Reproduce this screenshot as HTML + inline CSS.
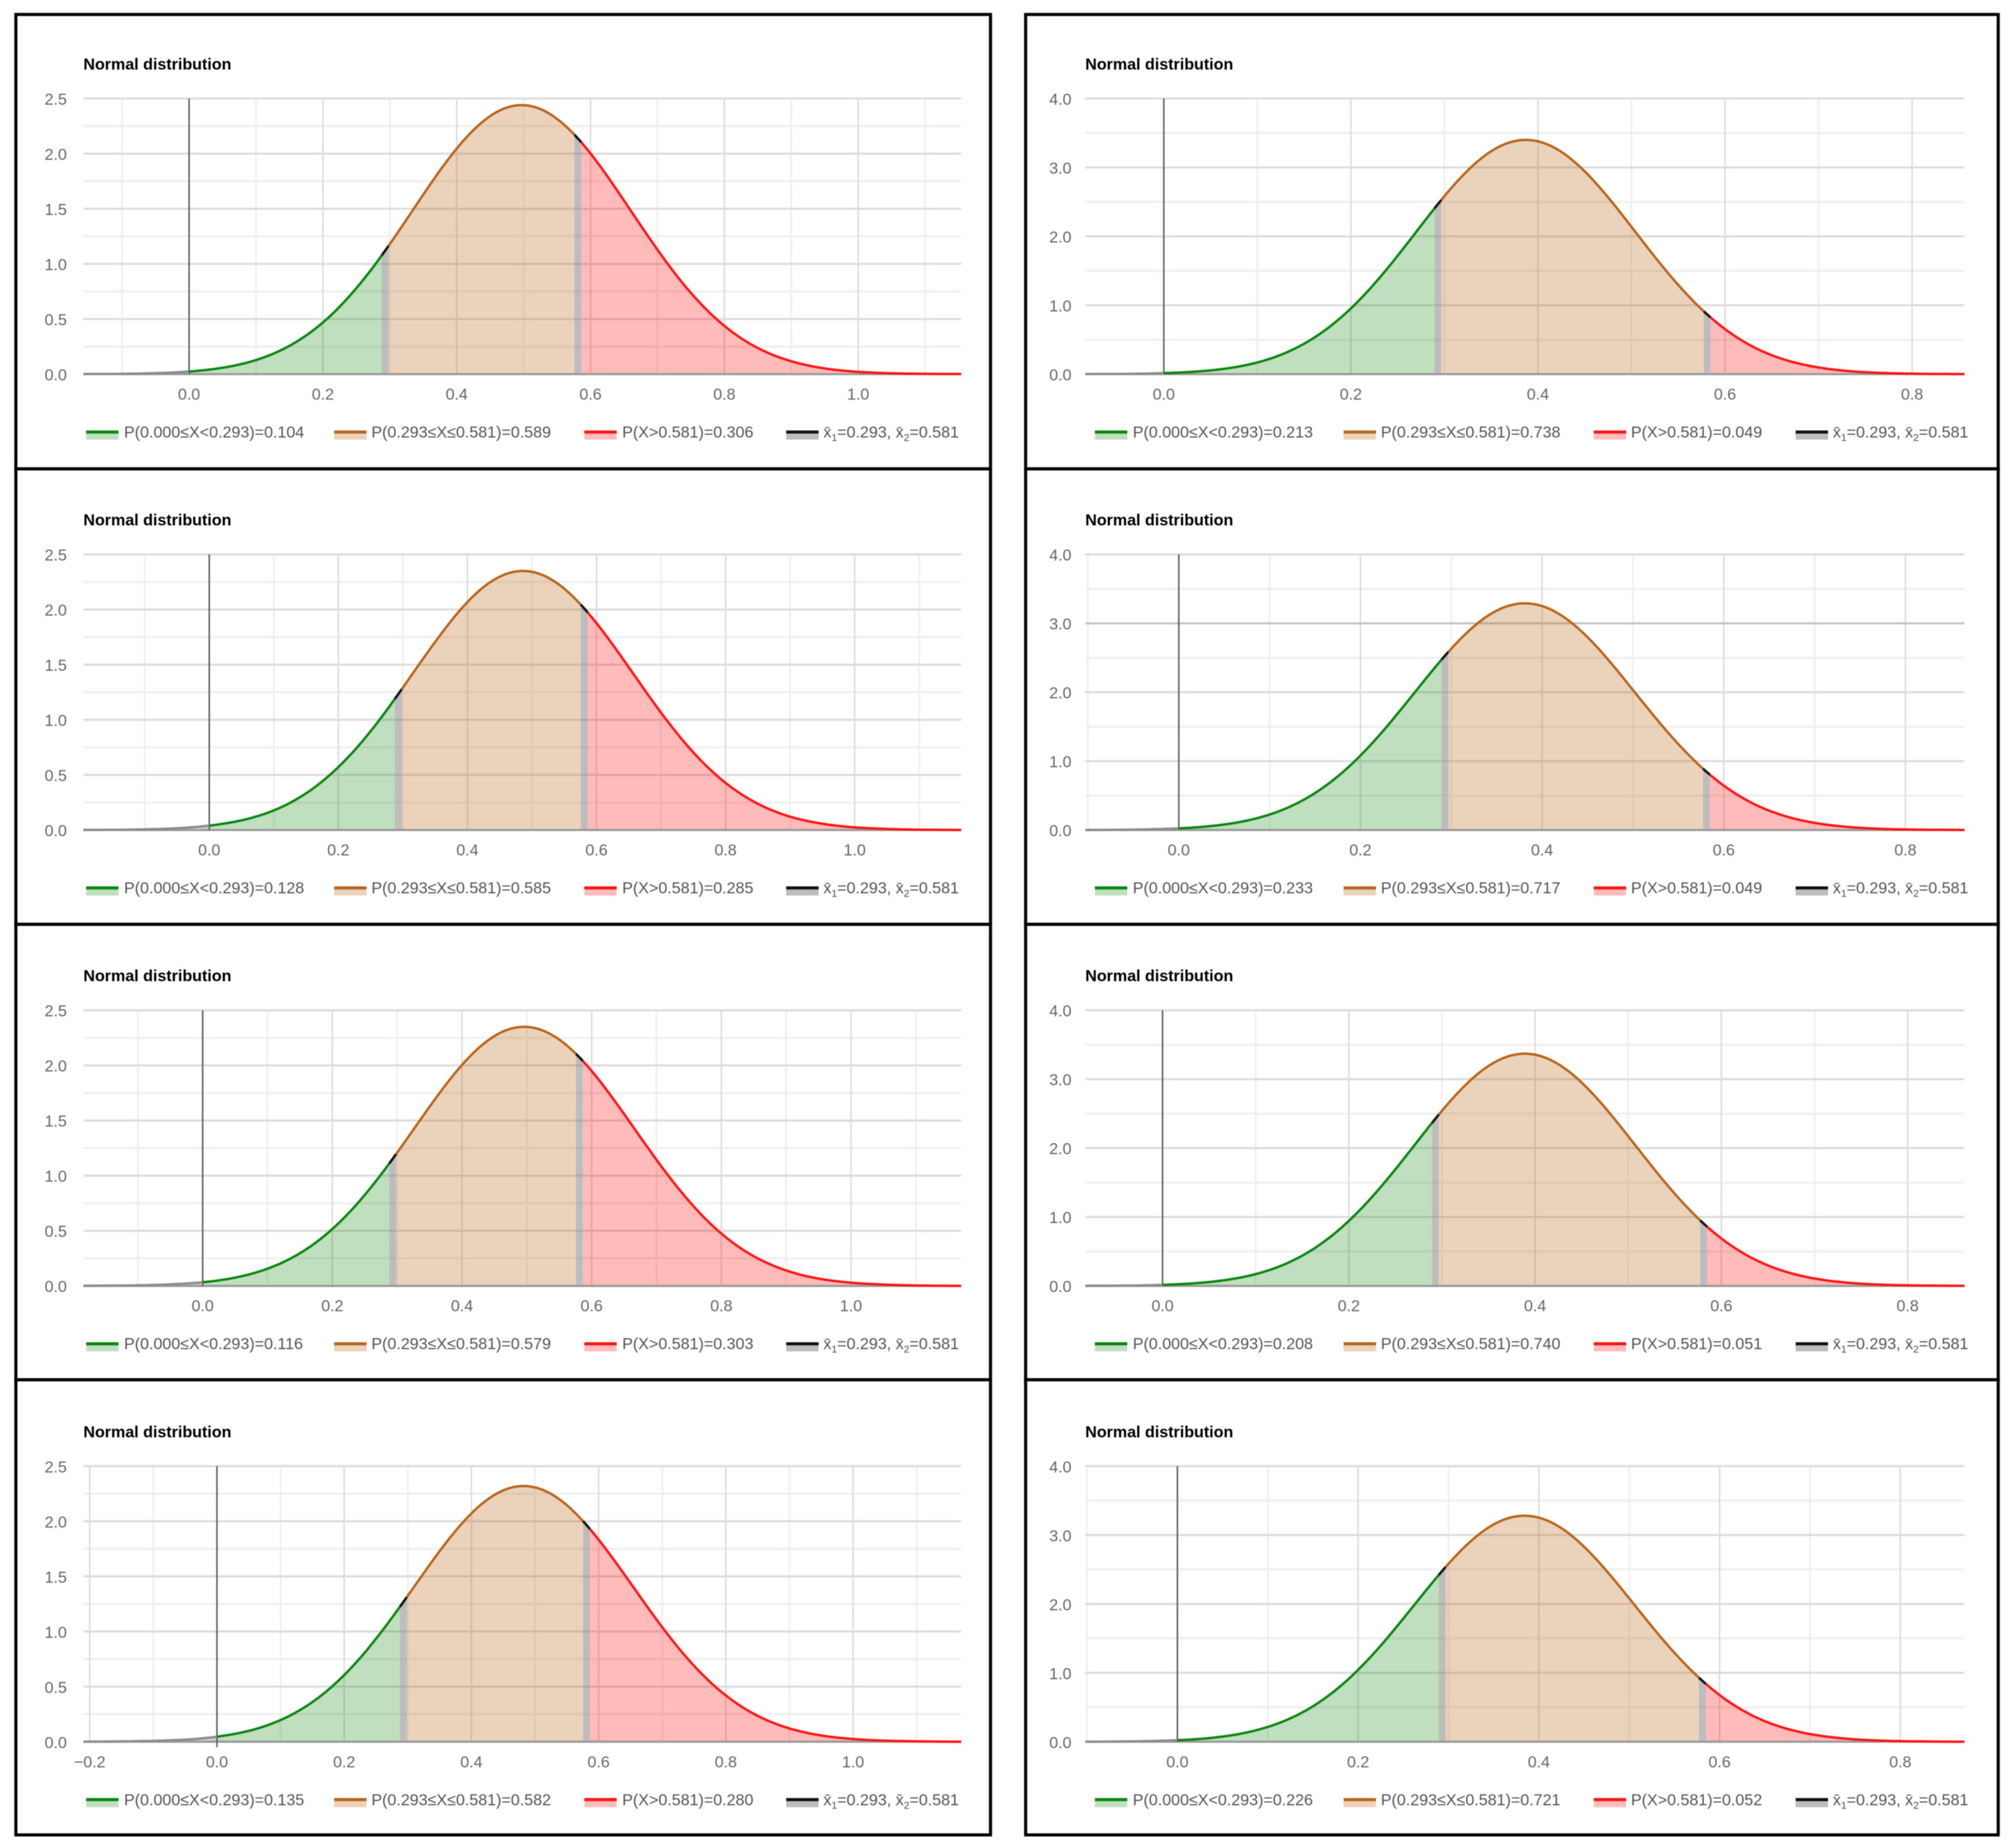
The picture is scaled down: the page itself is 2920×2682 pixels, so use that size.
<!DOCTYPE html>
<html lang="en">
<head>
<meta charset="utf-8">
<title>Normal distribution panels</title>
<style>
html,body{margin:0;padding:0;background:#fff;}
body{width:2920px;height:2682px;overflow:hidden;}
svg{display:block;filter:blur(0.6px);}
text{font-family:"Liberation Sans",Arial,sans-serif;}
</style>
</head>
<body>
<svg id="chart" xmlns="http://www.w3.org/2000/svg" width="2920" height="2682" viewBox="0 0 2920 2682"></svg>
<script>
// ---- data ----
const cutPoints = [0.293, 0.581];
const cutLabels = ["0.293", "0.581"];
const titleText = "Normal distribution";

const xSamplesLeft = [-0.25,-0.20,-0.15,-0.10,-0.05,0,0.05,0.10,0.15,0.20,0.25,0.30,0.35,0.40,0.45,0.50,0.55,0.60,0.65,0.70,0.75,0.80,0.85,0.90,0.95,1.00,1.05,1.10,1.15,1.20];
const xSamplesRight = [-0.15,-0.10,-0.05,0,0.05,0.10,0.15,0.20,0.25,0.30,0.35,0.40,0.45,0.50,0.55,0.60,0.65,0.70,0.75,0.80,0.85,0.90];

const xTicksLeft = [-0.2,0,0.2,0.4,0.6,0.8,1.0];
const xTicksRight = [0,0.2,0.4,0.6,0.8];
const xMinorLeft = [-0.1,0.1,0.3,0.5,0.7,0.9,1.1];
const xMinorRight = [-0.1,0.1,0.3,0.5,0.7];
const yTicksLeft = [0,0.5,1.0,1.5,2.0,2.5];
const yMinorLeft = [0.25,0.75,1.25,1.75,2.25];
const yTicksRight = [0,1.0,2.0,3.0,4.0];
const yMinorRight = [0.5,1.5,2.5,3.5];

const xDomainA1 = [-0.158,1.154];
const densityA1 = [0,0.000,0.001,0.003,0.009,0.024,0.058,0.128,0.257,0.469,0.780,1.180,1.629,2.046,2.341,2.440,2.315,2.001,1.575,1.129,0.737,0.438,0.237,0.117,0.052,0.021,0.008,0.003,0.001,0.000];
const legendA1 = ["P(0.000≤X<0.293)=0.104","P(0.293≤X≤0.581)=0.589","P(X>0.581)=0.306"];

const xDomainA2 = [-0.195,1.165];
const densityA2 = [0,0.001,0.002,0.006,0.016,0.040,0.088,0.178,0.333,0.571,0.896,1.292,1.706,2.068,2.298,2.342,2.189,1.876,1.476,1.064,0.704,0.427,0.238,0.121,0.057,0.024,0.010,0.003,0.001,0.000];
const legendA2 = ["P(0.000≤X<0.293)=0.128","P(0.293≤X≤0.581)=0.585","P(X>0.581)=0.285"];

const xDomainA3 = [-0.184,1.170];
const densityA3 = [0,0.001,0.002,0.005,0.014,0.033,0.075,0.156,0.296,0.516,0.825,1.209,1.625,2.004,2.266,2.349,2.234,1.949,1.559,1.144,0.770,0.475,0.269,0.140,0.066,0.029,0.012,0.004,0.001,0.000];
const legendA3 = ["P(0.000≤X<0.293)=0.116","P(0.293≤X≤0.581)=0.579","P(X>0.581)=0.303"];

const xDomainA4 = [-0.210,1.170];
const densityA4 = [0,0.001,0.003,0.008,0.019,0.046,0.099,0.197,0.360,0.605,0.934,1.325,1.728,2.071,2.280,2.307,2.146,1.833,1.440,1.039,0.689,0.420,0.235,0.121,0.057,0.025,0.010,0.004,0.001,0.000];
const legendA4 = ["P(0.000≤X<0.293)=0.135","P(0.293≤X≤0.581)=0.582","P(X>0.581)=0.280"];

const xDomainB1 = [-0.084,0.856];
const densityB1 = [0,0.001,0.003,0.015,0.055,0.170,0.442,0.954,1.719,2.583,3.235,3.379,2.943,2.138,1.295,0.654,0.275,0.097,0.028,0.007,0.001,0];
const legendB1 = ["P(0.000≤X<0.293)=0.213","P(0.293≤X≤0.581)=0.738","P(X>0.581)=0.049"];

const xDomainB2 = [-0.103,0.865];
const densityB2 = [0,0.001,0.006,0.024,0.080,0.225,0.537,1.081,1.837,2.632,3.184,3.250,2.799,2.033,1.247,0.645,0.281,0.104,0.032,0.008,0.002,0];
const legendB2 = ["P(0.000≤X<0.293)=0.233","P(0.293≤X≤0.581)=0.717","P(X>0.581)=0.049"];

const xDomainB3 = [-0.083,0.861];
const densityB3 = [0,0.001,0.003,0.015,0.056,0.171,0.439,0.943,1.692,2.541,3.192,3.355,2.951,2.172,1.337,0.688,0.297,0.107,0.032,0.008,0.002,0];
const legendB3 = ["P(0.000≤X<0.293)=0.208","P(0.293≤X≤0.581)=0.740","P(X>0.581)=0.051"];

const xDomainB4 = [-0.102,0.871];
const densityB4 = [0,0.001,0.006,0.022,0.075,0.215,0.515,1.044,1.788,2.583,3.154,3.252,2.831,2.081,1.292,0.678,0.299,0.112,0.035,0.009,0.002,0];
const legendB4 = ["P(0.000≤X<0.293)=0.226","P(0.293≤X≤0.581)=0.721","P(X>0.581)=0.052"];

const panels = [
  {id:"a1",col:0,row:0,domain:xDomainA1,density:densityA1,legend:legendA1},
  {id:"a2",col:0,row:1,domain:xDomainA2,density:densityA2,legend:legendA2},
  {id:"a3",col:0,row:2,domain:xDomainA3,density:densityA3,legend:legendA3},
  {id:"a4",col:0,row:3,domain:xDomainA4,density:densityA4,legend:legendA4,tail:true},
  {id:"b1",col:1,row:0,domain:xDomainB1,density:densityB1,legend:legendB1},
  {id:"b2",col:1,row:1,domain:xDomainB2,density:densityB2,legend:legendB2,strong:true},
  {id:"b3",col:1,row:2,domain:xDomainB3,density:densityB3,legend:legendB3},
  {id:"b4",col:1,row:3,domain:xDomainB4,density:densityB4,legend:legendB4}
];

// ---- layout ----
const NS = "http://www.w3.org/2000/svg";
const root = document.getElementById("chart");
const columns = [
  {frameL:23,frameR:1437.5,plotL:121,plotR:1395,labelR:97,titleX:121,yMax:2.5,
   samples:xSamplesLeft,xT:xTicksLeft,xM:xMinorLeft,yT:yTicksLeft,yM:yMinorLeft,
   swatch:[125,485,848,1141],text:[180,539,903,1195]},
  {frameL:1488.5,frameR:2900,plotL:1575,plotR:2851,labelR:1555,titleX:1575,yMax:4.0,
   samples:xSamplesRight,xT:xTicksRight,xM:xMinorRight,yT:yTicksRight,yM:yMinorRight,
   swatch:[1589,1950,2313,2606],text:[1644,2004,2367,2660]}
];
const rowEdges = [21,680.5,1341.5,2002.5,2663];
const rowOffset = 661.6;

function svgEl(tag, attrs, parent){
  const el = document.createElementNS(NS, tag);
  for (const k in attrs) el.setAttribute(k, attrs[k]);
  parent.appendChild(el);
  return el;
}

// Smooth the read-off samples in log space so the bell keeps a clean shape between samples.
function densityAt(p, c, x){
  const xs = c.samples, n = xs.length;
  const ys = p.density.map(v => Math.log(Math.max(v, 0.0003)));
  if (x <= xs[0]) return Math.exp(ys[0]);
  if (x >= xs[n-1]) return Math.exp(ys[n-1]);
  let i = 0;
  while (i < n-2 && x > xs[i+1]) i++;
  const h = xs[i+1]-xs[i], t = (x-xs[i])/h;
  const m0 = i>0 ? (ys[i+1]-ys[i-1])/2 : (ys[i+1]-ys[i]);
  const m1 = i<n-2 ? (ys[i+2]-ys[i])/2 : (ys[i+1]-ys[i]);
  const t2=t*t, t3=t2*t;
  return Math.exp((2*t3-3*t2+1)*ys[i]+(t3-2*t2+t)*m0+(-2*t3+3*t2)*ys[i+1]+(t3-t2)*m1);
}

function drawPanel(p){
  const c = columns[p.col];
  const top = 143 + rowOffset*p.row, bottom = 543 + rowOffset*p.row;
  const sx = x => c.plotL + (x-p.domain[0])/(p.domain[1]-p.domain[0])*(c.plotR-c.plotL);
  const ix = px => p.domain[0] + (px-c.plotL)/(c.plotR-c.plotL)*(p.domain[1]-p.domain[0]);
  const sy = y => bottom - y/c.yMax*(bottom-top);
  const inDom = x => x>=p.domain[0] && x<=p.domain[1];

  const g = svgEl("g",{},root);
  
  

  const frame = svgEl("rect",{x:c.frameL,y:rowEdges[p.row],width:c.frameR-c.frameL,height:rowEdges[p.row+1]-rowEdges[p.row],fill:"#fff",stroke:"#000","stroke-width":4.5},g);
  
  

  const title = svgEl("text",{x:c.titleX,y:101+rowOffset*p.row,"font-size":23.3,"font-weight":"bold",fill:"#000"},g);
  title.textContent = titleText;
  
  

  // grid
  c.yM.forEach(v=>{
    const l = svgEl("line",{x1:c.plotL,x2:c.plotR,y1:sy(v),y2:sy(v),stroke:"#efefef","stroke-width":3},g);
    
    
  });
  c.xM.filter(inDom).forEach(v=>{
    const l = svgEl("line",{x1:sx(v),x2:sx(v),y1:top,y2:bottom,stroke:"#efefef","stroke-width":2.5},g);
    
    
  });
  c.xT.filter(inDom).forEach(v=>{
    const l = svgEl("line",{x1:sx(v),x2:sx(v),y1:top,y2:bottom,stroke:"#dcdcdc","stroke-width":2.2},g);
    
    
    const t = svgEl("text",{x:sx(v),y:bottom+37,"font-size":23.2,"text-anchor":"middle",fill:"#666"},g);
    t.textContent = (v<0?"\u2212":"")+Math.abs(v).toFixed(1);
    
    
  });
  c.yT.forEach(v=>{
    const strongLine = p.strong && v===3;
    const l = svgEl("line",{x1:c.plotL,x2:c.plotR,y1:sy(v),y2:sy(v),stroke:strongLine?"#c4c4c4":"#dcdcdc","stroke-width":3},g);
    
    
    const t = svgEl("text",{x:c.labelR,y:sy(v)+9,"font-size":23.2,"text-anchor":"end",fill:"#666"},g);
    t.textContent = v.toFixed(1);
    
    
  });

  // curve helpers
  function points(a,b){
    const pa=sx(a), pb=sx(b), n=Math.max(2,Math.ceil((pb-pa)/2)), out=[];
    for(let i=0;i<=n;i++){
      const px=pa+(pb-pa)*i/n;
      out.push(px.toFixed(1)+","+sy(densityAt(p,c,ix(px))).toFixed(1));
    }
    return out;
  }
  function linePath(a,b){ return "M"+points(a,b).join("L"); }
  function areaPath(a,b){
    return "M"+sx(a).toFixed(1)+","+bottom+"L"+points(a,b).join("L")+"L"+sx(b).toFixed(1)+","+bottom+"Z";
  }

  const halfBand = 5/(c.plotR-c.plotL)*(p.domain[1]-p.domain[0]);
  const x1 = cutPoints[0], x2 = cutPoints[1];
  const d0 = p.domain[0], d1 = p.domain[1];

  // filled regions
  const areaLow = svgEl("path",{d:areaPath(d0,0),fill:"rgba(128,128,128,0.35)"},g);
  
  
  const areaGreen = svgEl("path",{d:areaPath(0,x1-halfBand),fill:"rgba(0,128,0,0.25)"},g);
  
  
  const areaBand1 = svgEl("path",{d:areaPath(x1-halfBand,x1+halfBand),fill:"rgba(128,128,128,0.52)"},g);
  
  
  const areaOrange = svgEl("path",{d:areaPath(x1+halfBand,x2-halfBand),fill:"rgba(190,105,30,0.3)"},g);
  
  
  const areaBand2 = svgEl("path",{d:areaPath(x2-halfBand,x2+halfBand),fill:"rgba(128,128,128,0.52)"},g);
  
  
  const areaRed = svgEl("path",{d:areaPath(x2+halfBand,d1),fill:"rgba(255,0,0,0.27)"},g);
  
  

  // axes
  const xAxis = svgEl("line",{x1:c.plotL,x2:c.plotR,y1:bottom,y2:bottom,stroke:"#999","stroke-width":3},g);
  
  
  const yAxis = svgEl("line",{x1:sx(0),x2:sx(0),y1:top,y2:bottom+(p.tail?8:0),stroke:"#555","stroke-width":2},g);
  
  

  // curve segments
  const base = {fill:"none","stroke-width":3.5,"stroke-linejoin":"round"};
  const seg0 = svgEl("path",Object.assign({d:linePath(d0,0),stroke:"#8c8c8c"},base),g);
  
  
  const seg1 = svgEl("path",Object.assign({d:linePath(0,x1-halfBand),stroke:"#0a850f"},base),g);
  
  
  const seg2 = svgEl("path",Object.assign({d:linePath(x1-halfBand,x1+halfBand),stroke:"#111"},base),g);
  
  
  const seg3 = svgEl("path",Object.assign({d:linePath(x1+halfBand,x2-halfBand),stroke:"#b9651c"},base),g);
  
  
  const seg4 = svgEl("path",Object.assign({d:linePath(x2-halfBand,x2+halfBand),stroke:"#111"},base),g);
  
  
  const seg5 = svgEl("path",Object.assign({d:linePath(x2+halfBand,d1),stroke:"#ff1414"},base),g);
  
  

  // legend
  const legY = 627 + rowOffset*p.row;
  const legLine = ["#0a850f","#b9651c","#ff1414","#111"];
  const legFill = ["#c0dfbf","#ebd2bb","#ffbcbc","#bdbdbd"];
  for(let i=0;i<4;i++){
    const sw = c.swatch[i];
    const f = svgEl("rect",{x:sw,y:legY,width:47,height:11,fill:legFill[i]},g);
    
    
    const l = svgEl("line",{x1:sw,x2:sw+47,y1:legY,y2:legY,stroke:legLine[i],"stroke-width":4.5},g);
    
    
    const t = svgEl("text",{x:c.text[i],y:legY+8,"font-size":23.3,fill:"#555"},g);
    
    
    if(i<3){
      t.textContent = p.legend[i];
    } else {
      const parts = [["x\u0304",0,23.3],["1",5,15],["="+cutLabels[0]+", x\u0304",-5,23.3],["2",5,15],["="+cutLabels[1],-5,23.3]];
      parts.forEach(q=>{
        const s = svgEl("tspan",{dy:q[1],"font-size":q[2]},t);
        s.textContent = q[0];
      });
    }
  }
}

panels.forEach(drawPanel);
</script>
</body>
</html>
